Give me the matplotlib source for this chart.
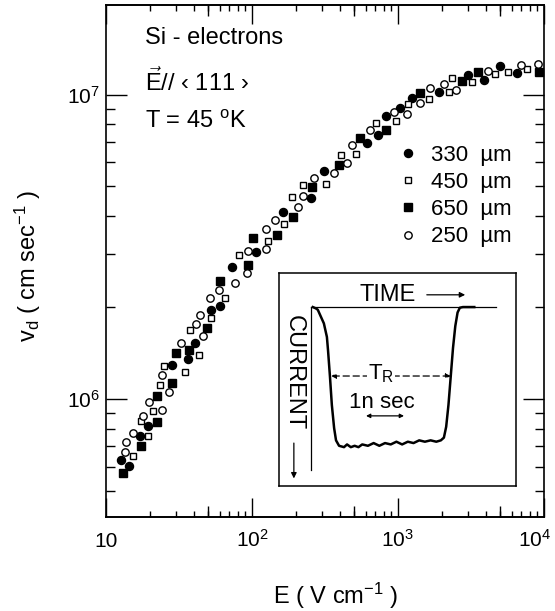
import matplotlib
matplotlib.use("Agg")
import matplotlib.pyplot as plt
from matplotlib.ticker import FixedLocator, NullFormatter, NullLocator, LogLocator
from matplotlib.transforms import ScaledTranslation

plt.rcParams['font.family'] = 'Liberation Sans'
plt.rcParams['mathtext.fontset'] = 'custom'
plt.rcParams['mathtext.rm'] = 'Liberation Sans'
plt.rcParams['mathtext.it'] = 'Liberation Sans:italic'
plt.rcParams['mathtext.bf'] = 'Liberation Sans:bold'

# drift velocity (cm/s) vs field (V/cm), one set per sample thickness
E_330 = [12.7, 14.4, 17.2, 19.5, 28.1, 36.7, 40.4, 52.2, 60.4, 73.4, 107, 162,
         254, 312, 613, 733, 824, 1030, 1253, 1904, 3027, 3913, 5004, 6543]
v_330 = [6.31e5, 6.02e5, 7.54e5, 8.17e5, 1.295e6, 1.354e6, 1.525e6, 1.957e6,
         2.02e6, 2.71e6, 3.05e6, 4.13e6, 4.58e6, 5.60e6, 6.94e6, 7.36e6, 8.54e6,
         9.07e6, 9.76e6, 1.02e7, 1.164e7, 1.116e7, 1.238e7, 1.178e7]

E_450 = [15.4, 17.3, 19.3, 20.9, 23.5, 24.9, 34.9, 37.6, 43.2, 52.5, 65.3, 81.6,
         128, 165, 189, 224, 324, 406, 518, 709, 974, 1171, 1629, 2251, 2341,
         3201, 4654, 5720, 7691]
v_450 = [6.5e5, 8.47e5, 7.59e5, 9.12e5, 1.116e6, 1.288e6, 1.227e6, 1.692e6,
         1.395e6, 1.85e6, 2.146e6, 2.975e6, 3.30e6, 3.77e6, 4.61e6, 5.05e6,
         5.08e6, 6.35e6, 6.39e6, 8.05e6, 8.17e6, 9.34e6, 9.71e6, 1.02e7, 1.133e7,
         1.10e7, 1.167e7, 1.19e7, 1.213e7]

E_650 = [13.1, 17.5, 22.2, 22.2, 28.3, 30.0, 37.2, 49.1, 60.7, 94.4, 102, 149,
         192, 259, 392, 548, 824, 1417, 2738, 3519, 9197]
v_650 = [5.72e5, 7.04e5, 8.42e5, 1.027e6, 1.133e6, 1.416e6, 1.446e6, 1.717e6,
         2.44e6, 2.76e6, 3.37e6, 3.45e6, 3.95e6, 4.96e6, 5.86e6, 7.21e6, 7.63e6,
         1.015e7, 1.107e7, 1.185e7, 1.19e7]

E_250 = [13.4, 13.7, 15.4, 17.8, 19.8, 24.2, 24.0, 27.0, 32.9, 41.1, 45.9, 44.2,
         51.3, 59.7, 76.8, 91.8, 94.4, 124, 125, 144, 207, 224, 268, 367, 451,
         485, 641, 937, 1152, 1417, 1656, 2071, 2518, 4115, 6955, 9095]
v_250 = [6.68e5, 7.23e5, 7.74e5, 8.8e5, 9.76e5, 9.2e5, 1.203e6, 1.052e6,
         1.534e6, 1.769e6, 1.609e6, 1.894e6, 2.146e6, 2.278e6, 2.403e6, 2.603e6,
         3.07e6, 3.11e6, 3.62e6, 3.87e6, 4.28e6, 4.65e6, 5.31e6, 5.54e6, 5.98e6,
         6.83e6, 7.66e6, 8.75e6, 8.62e6, 9.40e6, 1.052e7, 1.083e7, 1.036e7,
         1.195e7, 1.25e7, 1.265e7]

# current pulse trace for the inset: time (ns) and relative current
pulse_t = [0.05, 0.13, 0.18, 0.26, 0.34, 0.42, 0.45, 0.50, 0.55, 0.61, 0.66,
           0.74, 0.87, 0.95, 1.05, 1.15, 1.25, 1.35, 1.50, 1.65, 1.80, 1.95,
           2.10, 2.25, 2.40, 2.55, 2.70, 2.85, 3.00, 3.15, 3.30, 3.42, 3.50,
           3.56, 3.62, 3.68, 3.74, 3.80, 3.86, 3.92, 4.00, 4.30]
pulse_i = [0.0, -0.01, -0.02, -0.07, -0.12, -0.22, -0.32, -0.51, -0.72, -0.89,
           -0.98, -1.02, -1.03, -1.01, -1.03, -1.02, -1.03, -1.01, -1.02, -1.00,
           -1.02, -1.00, -1.01, -0.99, -1.01, -0.99, -1.00, -0.98, -0.99, -0.98,
           -0.99, -0.98, -0.96, -0.88, -0.72, -0.51, -0.30, -0.14, -0.04,
           -0.005, 0.0, 0.0]
transit_start, transit_end = 0.53, 3.68   # T_R
scale_ns = 1.0

xticks = [10, 100, 1000, 10000]
xticklabels = ['10', r'$10^{2}$', r'$10^{3}$', r'$10^{4}$']
yticks = [1e6, 1e7]
yticklabels = [r'$10^{6}$', r'$10^{7}$']

fig = plt.figure(figsize=(5.55, 6.11), dpi=100)
ax = fig.add_axes([0.191, 0.1538, 0.789, 0.838])
ax.set_xscale('log')
ax.set_yscale('log')

ms_kw = dict(ls='none', mec='black', mew=1.0)
ax.plot(E_330, v_330, marker='o', ms=5.8, mfc='black', label='330  µm', **ms_kw)
ax.plot(E_450, v_450, marker='s', ms=4.8, mfc='white', label='450  µm', **ms_kw)
ax.plot(E_650, v_650, marker='s', ms=5.1, mfc='black', label='650  µm', **ms_kw)
ax.plot(E_250, v_250, marker='o', ms=5.3, mfc='white', label='250  µm', **ms_kw)

ax.set_xlim(10, 10000)
ax.set_ylim(4.1e5, 1.97e7)
for s in ax.spines.values():
    s.set_linewidth(1.2)

ax.set_xticks(xticks, xticklabels)
ax.set_yticks(yticks, yticklabels)
ax.xaxis.set_minor_locator(LogLocator(base=10, subs=range(2, 10)))
ax.yaxis.set_minor_locator(LogLocator(base=10, subs=range(2, 10)))
ax.xaxis.set_minor_formatter(NullFormatter())
ax.yaxis.set_minor_formatter(NullFormatter())
ax.tick_params(which='both', direction='in', top=True, right=True, width=1.0, color='black')
ax.tick_params(axis='x', which='major', length=14, pad=21.5, labelsize=15)
ax.tick_params(axis='x', which='minor', length=4)
ax.tick_params(axis='y', which='major', length=15, pad=4.5, labelsize=15)
ax.tick_params(axis='y', which='minor', length=6.5)
for lbl in ax.get_xticklabels():
    lbl.set_verticalalignment('baseline')
last = ax.get_xticklabels()[-1]
last.set_transform(last.get_transform() + ScaledTranslation(-7 / 72, 0, fig.dpi_scale_trans))

# slightly longer ticks at 5 x 10^n
for side in ('bottom', 'top'):
    sec = ax.secondary_xaxis(side)
    sec.xaxis.set_major_locator(FixedLocator([50, 500, 5000]))
    sec.xaxis.set_minor_locator(NullLocator())
    sec.xaxis.set_major_formatter(NullFormatter())
    sec.tick_params(direction='in', length=8, width=1.0)
    sec.spines[side].set_linewidth(1.2)

ax.set_xlabel(r'E ( V cm$^{-1}$ )', fontsize=17)
ax.xaxis.set_label_coords(0.525, -0.125)
ax.set_ylabel(r'v$_\mathregular{d}$ ( cm sec$^{-1}$ )', fontsize=17)
ax.yaxis.set_label_coords(-0.145, 0.49)

ax.text(0.09, 0.935, 'Si - electrons', transform=ax.transAxes, fontsize=17, va='center')
ax.text(0.09, 0.85, r'$\vec{\mathrm{E}}$// ‹ 111 ›', transform=ax.transAxes, fontsize=17, va='center')
ax.text(0.09, 0.772, r'T = 45 $^{\mathregular{o}}$K', transform=ax.transAxes, fontsize=17, va='center')

leg = ax.legend(loc='upper left', bbox_to_anchor=(0.665, 0.727), frameon=False,
                fontsize=16, handlelength=1.0, handletextpad=0.5,
                labelspacing=0.28, borderpad=0, borderaxespad=0, markerscale=1.0)

# inset: current pulse
ins = ax.inset_axes([0.395, 0.0605, 0.541, 0.416])
ins.set_xlim(-0.842, 5.395)
ins.set_ylim(-1.316, 0.25)
ins.set_xticks([])
ins.set_yticks([])
for s in ins.spines.values():
    s.set_linewidth(1.1)
ins.plot([0, 4.87], [0, 0], color='black', lw=0.9)
ins.plot([0, 0], [0, -1.2], color='black', lw=0.9)
ins.plot(pulse_t, pulse_i, color='black', lw=1.8, solid_joinstyle='round')

ins.annotate('', xy=(transit_start, -0.507), xytext=(transit_end, -0.507),
             arrowprops=dict(arrowstyle='<|-|>', color='black', lw=0.9,
                             linestyle=(0, (5, 3)), mutation_scale=7, shrinkA=0, shrinkB=0))
ins.text(1.84, -0.49, r'T$_\mathregular{R}$', fontsize=16, ha='center', va='center',
         bbox=dict(facecolor='white', edgecolor='none', pad=0.5))
ins.text(1.87, -0.70, '1n sec', fontsize=16, ha='center', va='center')
ins.annotate('', xy=(1.45, -0.80), xytext=(1.45 + scale_ns, -0.80),
             arrowprops=dict(arrowstyle='<|-|>', color='black', lw=0.9,
                             mutation_scale=6, shrinkA=0, shrinkB=0))

ins.text(2.03, 0.09, 'TIME', fontsize=17, ha='center', va='center')
ins.annotate('', xy=(4.06, 0.09), xytext=(3.05, 0.09),
             arrowprops=dict(arrowstyle='-|>', color='black', lw=0.9,
                             mutation_scale=8, shrinkA=0, shrinkB=0))
ins.text(-0.45, -0.48, 'CURRENT', fontsize=17, rotation=-90, ha='center', va='center')
ins.annotate('', xy=(-0.45, -1.26), xytext=(-0.45, -1.0),
             arrowprops=dict(arrowstyle='-|>', color='black', lw=0.9,
                             mutation_scale=8, shrinkA=0, shrinkB=0))

fig.savefig('out.png', dpi=100)
